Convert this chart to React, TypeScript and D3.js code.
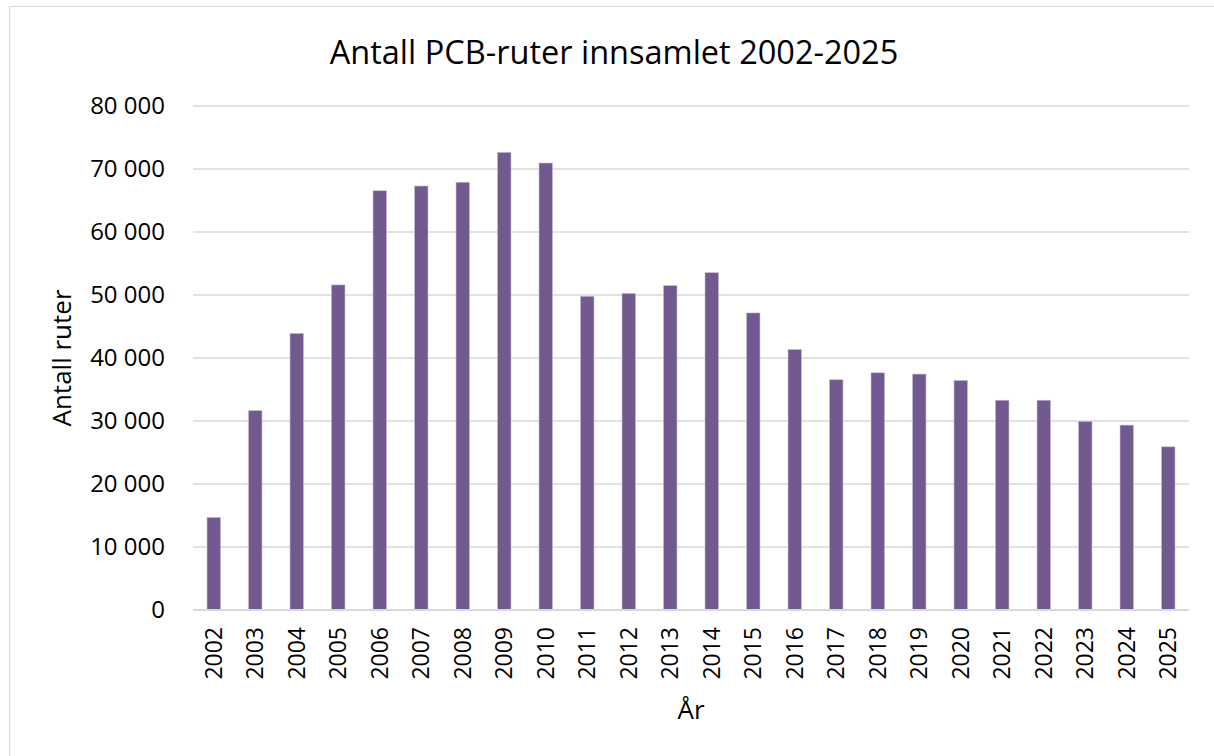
import React, { useEffect, useRef } from 'react';
import * as d3 from 'd3';

const years = ['2002', '2003', '2004', '2005', '2006', '2007', '2008', '2009', '2010', '2011', '2012', '2013',
    '2014', '2015', '2016', '2017', '2018', '2019', '2020', '2021', '2022', '2023', '2024', '2025'];
const counts = [14700, 31650, 43900, 51600, 66550, 67300, 67900, 72650, 70950, 49800, 50250, 51500,
    53550, 47150, 41350, 36550, 37650, 37450, 36450, 33300, 33300, 29950, 29350, 25900];
const yTicks = [0, 10000, 20000, 30000, 40000, 50000, 60000, 70000, 80000];

const FONT = '"Open Sans", "Noto Sans", sans-serif';

export default function App() {
    const ref = useRef<SVGSVGElement | null>(null);

    useEffect(() => {
        const svg = d3.select(ref.current);
        svg.selectAll('*').remove();
        const width = 1214, height = 756;
        const margin = { top: 106, right: 25, bottom: 146, left: 193 };

        const x = d3.scaleBand().domain(years).range([margin.left, width - margin.right])
            .paddingInner(0.675).paddingOuter(0.3375);
        const y = d3.scaleLinear().domain([0, 80000]).range([height - margin.bottom, margin.top]);

        svg.attr('viewBox', `0 0 ${width} ${height}`);

        svg.append('rect').attr('width', width).attr('height', height).attr('fill', '#fff');
        svg.append('rect').attr('x', 9.5).attr('y', 6.5).attr('width', width + 20).attr('height', height + 20)
            .attr('fill', 'none').attr('stroke', '#d9d9d9').attr('stroke-width', 1);

        // gridlines
        svg.append('g').selectAll('line').data(yTicks.filter(t => t > 0)).join('line')
            .attr('x1', margin.left).attr('x2', width - margin.right)
            .attr('y1', d => y(d)).attr('y2', d => y(d))
            .attr('stroke', '#d9d9d9').attr('stroke-width', 1.5);

        // y tick labels
        const fmt = (v: number) => v === 0 ? '0' : d3.format(',')(v).replace(/,/g, ' ');
        svg.append('g').selectAll('text').data(yTicks).join('text')
            .attr('x', 165).attr('y', d => y(d))
            .attr('dy', '0.35em')
            .attr('text-anchor', 'end')
            .attr('font-family', FONT).attr('font-size', 24).attr('fill', '#000')
            .text(d => fmt(d));

        // bars
        svg.append('g').selectAll('rect').data(counts).join('rect')
            .attr('x', (_, i) => x(years[i])!)
            .attr('y', d => y(d))
            .attr('width', x.bandwidth())
            .attr('height', d => y(0) - y(d))
            .attr('fill', '#72598f')
            .attr('stroke', '#c9bedb').attr('stroke-width', 0.6);

        // baseline
        svg.append('line').attr('x1', margin.left).attr('x2', width - margin.right)
            .attr('y1', y(0)).attr('y2', y(0))
            .attr('stroke', '#d9d9d9').attr('stroke-width', 2);

        // x labels
        svg.append('g').selectAll('text').data(years).join('text')
            .attr('transform', d => `translate(${x(d)! + x.bandwidth() / 2 + 8},${y(0) + 17}) rotate(-90)`)
            .attr('text-anchor', 'end')
            .attr('font-family', FONT).attr('font-size', 23).attr('fill', '#000')
            .text(d => d);

        // titles
        svg.append('text').attr('x', 614).attr('y', 64).attr('text-anchor', 'middle')
            .attr('font-family', FONT).attr('font-size', 32.5).attr('fill', '#000')
            .text('Antall PCB-ruter innsamlet 2002-2025');

        svg.append('text').attr('transform', `translate(71,${(y(0) + y(80000)) / 2}) rotate(-90)`)
            .attr('text-anchor', 'middle')
            .attr('font-family', FONT).attr('font-size', 26).attr('fill', '#000')
            .text('Antall ruter');

        svg.append('text').attr('x', (margin.left + width - margin.right) / 2).attr('y', 719)
            .attr('text-anchor', 'middle')
            .attr('font-family', FONT).attr('font-size', 26).attr('fill', '#000')
            .text('År');
    }, []);

    return <svg ref={ref} width={1214} height={756} style={{ position: 'fixed', top: 0, left: 0, display: 'block' }} />;
}
